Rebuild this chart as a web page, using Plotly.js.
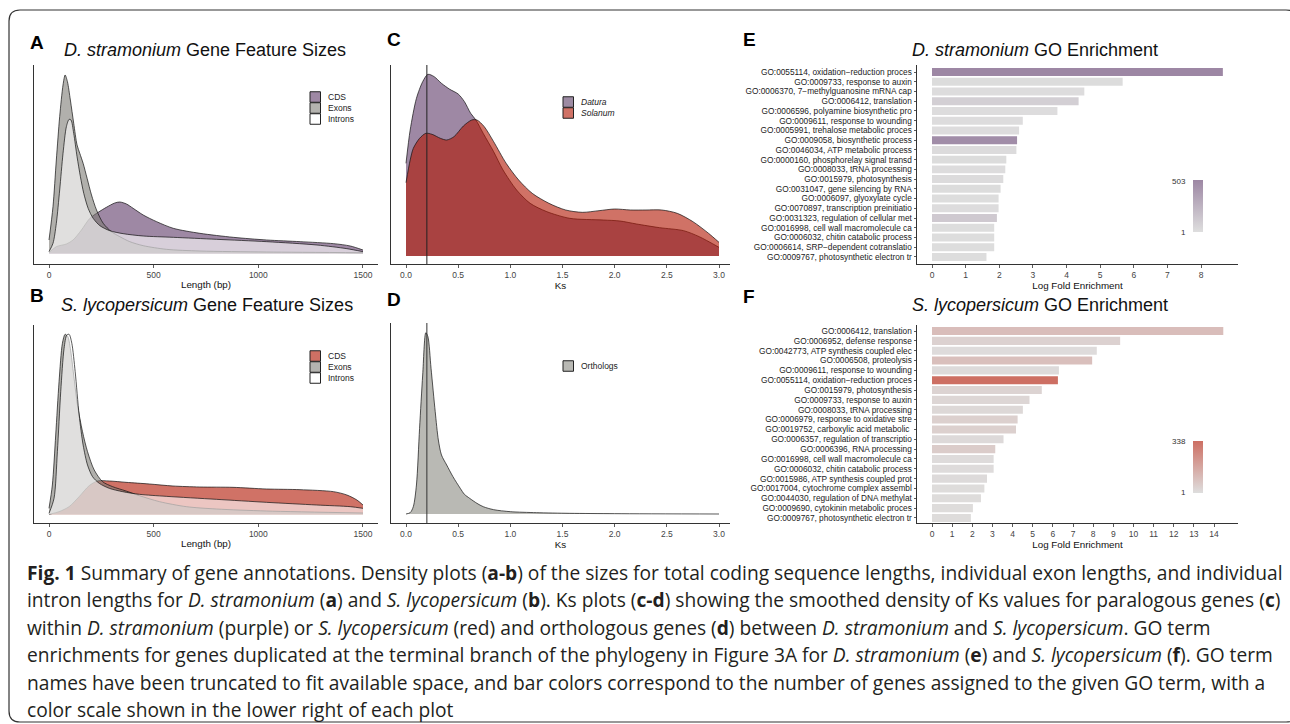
<!DOCTYPE html>
<html><head><meta charset="utf-8">
<script src="https://cdn.plot.ly/plotly-3.0.1.min.js"></script>
<style>html,body{margin:0;padding:0;background:#fff}#chart{width:1290px;height:724px}</style>
</head><body><div id="chart"></div>
<script>
// ---------- DATA ----------
// Panel A: D. stramonium feature length densities (relative density)
const dsCdsX = [0, 35, 83, 115, 155, 195, 235, 274, 314, 338, 370, 402, 450, 514, 594, 721, 881, 1040, 1200, 1360, 1439, 1500];
const dsCdsY = [0.02, 0.20, 0.28, 0.40, 0.70, 1.05, 1.23, 1.38, 1.51, 1.54, 1.48, 1.35, 1.15, 0.95, 0.75, 0.60, 0.48, 0.40, 0.35, 0.29, 0.22, 0.10];
const dsExonX = [0, 19, 35, 51, 67, 77, 88, 102, 118, 134, 147, 163, 182, 203, 227, 259, 298, 338, 386, 450, 562, 721, 1040, 1500];
const dsExonY = [0.40, 1.40, 2.80, 4.10, 5.05, 5.35, 5.15, 4.60, 3.90, 3.25, 3.00, 2.70, 2.25, 1.75, 1.30, 0.90, 0.65, 0.50, 0.35, 0.23, 0.12, 0.07, 0.04, 0.02];
const dsIntronX = [0, 19, 35, 51, 67, 83, 96, 105, 118, 134, 150, 166, 187, 211, 243, 290, 354, 450, 594, 801, 1040, 1280, 1423, 1500];
const dsIntronY = [0.05, 0.30, 0.90, 1.90, 3.00, 3.80, 4.02, 4.00, 3.60, 2.90, 2.30, 1.80, 1.35, 1.05, 0.83, 0.68, 0.59, 0.52, 0.48, 0.42, 0.35, 0.25, 0.14, 0.05];
// Panel B: S. lycopersicum feature length densities
const slCdsX = [0, 48, 96, 144, 192, 232, 288, 368, 480, 592, 720, 879, 1039, 1199, 1359, 1423, 1471, 1500];
const slCdsY = [0.00, 0.08, 0.23, 0.53, 0.86, 1.00, 1.00, 0.96, 0.91, 0.85, 0.82, 0.81, 0.76, 0.74, 0.68, 0.58, 0.43, 0.28];
const slExonX = [0, 16, 32, 48, 64, 77, 90, 102, 118, 136, 160, 184, 216, 256, 304, 368, 432, 528, 656, 800, 1039, 1500];
const slExonY = [0.18, 0.88, 2.38, 3.98, 5.13, 5.40, 5.33, 4.98, 4.18, 3.28, 2.48, 1.88, 1.33, 0.98, 0.83, 0.70, 0.56, 0.38, 0.23, 0.16, 0.10, 0.04];
const slIntronX = [0, 24, 40, 56, 72, 85, 96, 109, 125, 144, 163, 184, 208, 240, 288, 352, 432, 560, 800, 1039, 1279, 1439, 1500];
const slIntronY = [0.03, 0.48, 1.88, 3.68, 4.98, 5.38, 5.40, 5.13, 4.28, 2.98, 2.08, 1.48, 1.13, 0.93, 0.78, 0.68, 0.60, 0.54, 0.45, 0.36, 0.28, 0.23, 0.18];
const featureNames = ["CDS", "Exons", "Introns"];
const lengthTicks = [0, 500, 1000, 1500];
// Panel C: paralog Ks densities
const daturaKsX = [0.00, 0.04, 0.10, 0.16, 0.21, 0.27, 0.34, 0.42, 0.50, 0.56, 0.62, 0.67, 0.74, 0.84, 0.93, 1.06, 1.19, 1.35, 1.57, 1.89, 2.05, 2.21, 2.43, 2.66, 2.81, 3.00];
const daturaKsY = [2.78, 3.78, 4.73, 5.23, 5.45, 5.38, 5.18, 5.00, 4.86, 4.63, 4.28, 4.08, 3.68, 3.13, 2.58, 1.98, 1.58, 1.33, 1.13, 1.08, 1.05, 0.96, 0.85, 0.76, 0.58, 0.26];
const solanumKsX = [0.00, 0.04, 0.07, 0.13, 0.19, 0.25, 0.33, 0.39, 0.46, 0.55, 0.63, 0.68, 0.75, 0.84, 0.96, 1.08, 1.21, 1.37, 1.53, 1.69, 1.85, 2.00, 2.15, 2.30, 2.45, 2.60, 2.75, 2.90, 3.00];
const solanumKsY = [2.20, 2.88, 3.23, 3.53, 3.68, 3.65, 3.53, 3.48, 3.58, 3.90, 4.08, 4.08, 3.88, 3.43, 2.78, 2.28, 1.88, 1.58, 1.38, 1.31, 1.36, 1.41, 1.38, 1.38, 1.38, 1.28, 1.03, 0.68, 0.41];
const paralogNames = ["Datura", "Solanum"];
// Panel D: ortholog Ks density
const orthoKsX = [0.00, 0.04, 0.07, 0.10, 0.13, 0.16, 0.19, 0.21, 0.24, 0.28, 0.31, 0.34, 0.39, 0.45, 0.52, 0.56, 0.61, 0.68, 0.74, 0.84, 1.00, 1.25, 1.57, 2.00, 3.00];
const orthoKsY = [0.00, 0.04, 0.22, 0.87, 2.57, 4.17, 5.44, 5.32, 4.37, 3.07, 2.22, 1.77, 1.47, 1.12, 0.77, 0.59, 0.47, 0.32, 0.22, 0.13, 0.07, 0.04, 0.02, 0.01, 0.00];
const orthoName = ["Orthologs"];
const ksTicks = [0, 0.5, 1, 1.5, 2, 2.5, 3];
const ksMarker = 0.2;
// Panel E: D. stramonium GO enrichment
const dsGoTerms = ["GO:0055114, oxidation\u2212reduction proces", "GO:0009733, response to auxin", "GO:0006370, 7\u2212methylguanosine mRNA cap", "GO:0006412, translation", "GO:0006596, polyamine biosynthetic pro", "GO:0009611, response to wounding", "GO:0005991, trehalose metabolic proces", "GO:0009058, biosynthetic process", "GO:0046034, ATP metabolic process", "GO:0000160, phosphorelay signal transd", "GO:0008033, tRNA processing", "GO:0015979, photosynthesis", "GO:0031047, gene silencing by RNA", "GO:0006097, glyoxylate cycle", "GO:0070897, transcription preinitiatio", "GO:0031323, regulation of cellular met", "GO:0016998, cell wall macromolecule ca", "GO:0006032, chitin catabolic process", "GO:0006614, SRP\u2212dependent cotranslatio", "GO:0009767, photosynthetic electron tr"];
const dsGoFold = [8.65, 5.67, 4.53, 4.36, 3.73, 2.70, 2.59, 2.53, 2.51, 2.21, 2.18, 2.12, 2.04, 1.98, 1.98, 1.93, 1.85, 1.85, 1.85, 1.62];
const dsGoCount = [503, 15, 12, 85, 10, 12, 12, 470, 20, 15, 12, 20, 15, 8, 10, 120, 8, 8, 8, 8];
const dsCountRange = [1, 503];
const dsFoldTicks = [0, 1, 2, 3, 4, 5, 6, 7, 8];
// Panel F: S. lycopersicum GO enrichment
const slGoTerms = ["GO:0006412, translation", "GO:0006952, defense response", "GO:0042773, ATP synthesis coupled elec", "GO:0006508, proteolysis", "GO:0009611, response to wounding", "GO:0055114, oxidation\u2212reduction proces", "GO:0015979, photosynthesis", "GO:0009733, response to auxin", "GO:0008033, tRNA processing", "GO:0006979, response to oxidative stre", "GO:0019752, carboxylic acid metabolic ", "GO:0006357, regulation of transcriptio", "GO:0006396, RNA processing", "GO:0016998, cell wall macromolecule ca", "GO:0006032, chitin catabolic process", "GO:0015986, ATP synthesis coupled prot", "GO:0017004, cytochrome complex assembl", "GO:0044030, regulation of DNA methylat", "GO:0009690, cytokinin metabolic proces", "GO:0009767, photosynthetic electron tr"];
const slGoFold = [14.46, 9.34, 8.18, 7.95, 6.30, 6.25, 5.45, 4.84, 4.51, 4.25, 4.17, 3.55, 3.14, 3.06, 3.06, 2.73, 2.60, 2.43, 2.03, 1.93];
const slGoCount = [100, 40, 10, 95, 12, 338, 35, 25, 20, 45, 45, 15, 55, 10, 10, 12, 8, 8, 8, 8];
const slCountRange = [1, 338];
const slFoldTicks = [0, 1, 2, 3, 4, 5, 6, 7, 8, 9, 10, 11, 12, 13, 14];
// Caption
const captionLines = [
  "<b>Fig. 1</b> Summary of gene annotations. Density plots (<b>a-b</b>) of the sizes for total coding sequence lengths, individual exon lengths, and individual",
  "intron lengths for <i>D. stramonium</i> (<b>a</b>) and <i>S. lycopersicum</i> (<b>b</b>). Ks plots (<b>c-d</b>) showing the smoothed density of Ks values for paralogous genes (<b>c</b>)",
  "within <i>D. stramonium</i> (purple) or <i>S. lycopersicum</i> (red) and orthologous genes (<b>d</b>) between <i>D. stramonium</i> and <i>S. lycopersicum</i>. GO term",
  "enrichments for genes duplicated at the terminal branch of the phylogeny in Figure 3A for <i>D. stramonium</i> (<b>e</b>) and <i>S. lycopersicum</i> (<b>f</b>). GO term",
  "names have been truncated to fit available space, and bar colors correspond to the number of genes assigned to the given GO term, with a",
  "color scale shown in the lower right of each plot"
];

// ---------- STYLE / LAYOUT ----------
const W = 1290, H = 724;
const px = v => v / W;
const py = v => 1 - v / H;
const FONT = "Liberation Sans, Arial, sans-serif";
const purpleFill = "rgba(93,57,103,0.6)";
const grayFill = "rgba(125,124,117,0.6)";
const whiteFill = "rgba(255,255,255,0.6)";
const redFill = "rgba(177,20,0,0.6)";
const orthoFill = "rgba(138,138,130,0.6)";

function dens(x, y, fill, xa, ya) {
  return {type: "scatter", mode: "lines", x: x, y: y, xaxis: xa, yaxis: ya,
    fill: "tozeroy", fillcolor: fill,
    line: {color: "#111", width: 0.7, shape: "spline", smoothing: 0.8},
    hoverinfo: "skip", showlegend: false};
}

const traces = [
  dens(dsCdsX, dsCdsY, purpleFill, "x", "y"),
  dens(dsExonX, dsExonY, grayFill, "x", "y"),
  dens(dsIntronX, dsIntronY, whiteFill, "x", "y"),
  dens(slCdsX, slCdsY, redFill, "x2", "y2"),
  dens(slExonX, slExonY, grayFill, "x2", "y2"),
  dens(slIntronX, slIntronY, whiteFill, "x2", "y2"),
  dens(daturaKsX, daturaKsY, purpleFill, "x3", "y3"),
  dens(solanumKsX, solanumKsY, redFill, "x3", "y3"),
  dens(orthoKsX, orthoKsY, orthoFill, "x4", "y4"),
  {type: "bar", orientation: "h", x: dsGoFold, y: dsGoTerms, xaxis: "x5", yaxis: "y5", width: 0.82,
   marker: {color: dsGoCount, colorscale: [[0, "#dedede"], [1, "#9d87a4"]], cmin: dsCountRange[0], cmax: dsCountRange[1],
     line: {width: 0}, showscale: true,
     colorbar: {x: px(1193), xanchor: "left", xpad: 0, ypad: 0, y: py(206), yanchor: "middle",
       thickness: 10, len: 52, lenmode: "pixels", outlinewidth: 0, ticks: "", showticklabels: false}},
   hoverinfo: "skip", showlegend: false},
  {type: "bar", orientation: "h", x: slGoFold, y: slGoTerms, xaxis: "x6", yaxis: "y6", width: 0.82,
   marker: {color: slGoCount, colorscale: [[0, "#dedede"], [1, "#cd6f63"]], cmin: slCountRange[0], cmax: slCountRange[1],
     line: {width: 0}, showscale: true,
     colorbar: {x: px(1193), xanchor: "left", xpad: 0, ypad: 0, y: py(467), yanchor: "middle",
       thickness: 10, len: 52, lenmode: "pixels", outlinewidth: 0, ticks: "", showticklabels: false}},
   hoverinfo: "skip", showlegend: false}
];

const tickFont = {family: FONT, size: 8.5, color: "#444"};
const titleFont = {family: FONT, size: 9.8, color: "#111"};
function xax(domain, range, ticks, title, anchor, fmt) {
  return {domain: domain, range: range, tickmode: "array", tickvals: ticks, ticktext: ticks.map(fmt || (v => String(v))),
    showline: true, linecolor: "#333", linewidth: 1, ticks: "outside", ticklen: 3, tickwidth: 0.8, tickcolor: "#333",
    showgrid: false, zeroline: false, tickfont: tickFont, anchor: anchor,
    title: {text: title, font: titleFont, standoff: 1}};
}
function yden(domain, range, anchor) {
  return {domain: domain, range: range, showline: true, linecolor: "#333", linewidth: 1, ticks: "",
    showticklabels: false, showgrid: false, zeroline: false, anchor: anchor};
}
function ycat(domain, range, cats, anchor) {
  return {domain: domain, range: range, type: "category", categoryorder: "array", categoryarray: cats,
    tickmode: "array", tickvals: cats, ticktext: cats,
    showline: true, linecolor: "#333", linewidth: 1, ticks: "outside", ticklen: 2.5, tickwidth: 0.8, tickcolor: "#333",
    showgrid: false, zeroline: false, tickfont: {family: FONT, size: 8.3, color: "#222"}, anchor: anchor};
}

const topY = [py(264), py(65)];
const botY = [py(523), py(325)];
const colA = [px(34), px(378)];
const colC = [px(391), px(730)];
const colE = [px(917), px(1238)];

const layout = {
  width: W, height: H, margin: {l: 0, r: 0, t: 0, b: 0}, autosize: false,
  paper_bgcolor: "#fff", plot_bgcolor: "rgba(0,0,0,0)", showlegend: false,
  font: {family: FONT, color: "#111"},
  xaxis: xax(colA, [-71.7, 1571.7], lengthTicks, "Length (bp)", "y"),
  yaxis: yden(topY, [-0.32, 5.65], "x"),
  xaxis2: xax(colA, [-71.7, 1571.7], lengthTicks, "Length (bp)", "y2"),
  yaxis2: yden(botY, [-0.26, 5.68], "x2"),
  xaxis3: xax(colC, [-0.1438, 3.1054], ksTicks, "Ks", "y3", v => v.toFixed(1)),
  yaxis3: yden(topY, [-0.24, 5.73], "x3"),
  xaxis4: xax(colC, [-0.1438, 3.1054], ksTicks, "Ks", "y4", v => v.toFixed(1)),
  yaxis4: yden([py(523), py(323)], [-0.27, 5.73], "x4"),
  xaxis5: xax(colE, [-0.446, 9.10], dsFoldTicks, "Log Fold Enrichment", "y5"),
  yaxis5: ycat(topY, [19.72, -0.72], dsGoTerms, "x5"),
  xaxis6: xax(colE, [-0.745, 15.19], slFoldTicks, "Log Fold Enrichment", "y6"),
  yaxis6: ycat(botY, [19.51, -0.61], slGoTerms, "x6"),
  annotations: [],
  shapes: []
};

function ann(x, y, text, size, extra) {
  layout.annotations.push(Object.assign({xref: "paper", yref: "paper", x: px(x), y: py(y), text: text,
    showarrow: false, xanchor: "center", yanchor: "middle", font: {family: FONT, size: size, color: "#111"}}, extra || {}));
}
// Panel letters
[["A", 37, 42], ["B", 37, 295], ["C", 394, 40], ["D", 394, 299], ["E", 749, 40], ["F", 749, 297]].forEach(l =>
  ann(l[1], l[2], "<b>" + l[0] + "</b>", 19, {font: {family: FONT, size: 19, color: "#000"}}));
// Panel titles
ann(205, 50, "<i>D. stramonium</i> Gene Feature Sizes", 18);
ann(207, 305, "<i>S. lycopersicum</i> Gene Feature Sizes", 18);
ann(1035, 50, "<i>D. stramonium</i> GO Enrichment", 18);
ann(1040, 305, "<i>S. lycopersicum</i> GO Enrichment", 18);

// Legends (keys)
function legend(x0, yCenters, colors, names, italic) {
  yCenters.forEach((yc, i) => {
    layout.shapes.push({type: "rect", xref: "paper", yref: "paper", x0: px(x0), x1: px(x0 + 10.5),
      y0: py(yc - 5.25), y1: py(yc + 5.25), fillcolor: colors[i], line: {color: "#222", width: 1}});
    ann(x0 + 16, yc, italic ? "<i>" + names[i] + "</i>" : names[i], 8.5,
      {xanchor: "left", font: {family: FONT, size: 8.5, color: "#222"}});
  });
}
legend(310, [97, 108, 119], ["#9e88a4", "#b4b3af", "#ffffff"], featureNames, false);
legend(310, [356, 367, 378], ["#ce7064", "#b4b3af", "#ffffff"], featureNames, false);
legend(563, [102, 113], ["#9d8ba3", "#d07266"], paralogNames, true);
legend(563, [366], ["#b9b9b4"], orthoName, false);

// Colorbar end labels
const cbLab = {xanchor: "right", font: {family: FONT, size: 8, color: "#333"}};
ann(1188, 181, String(dsCountRange[1]), 8, cbLab);
ann(1188, 232, String(dsCountRange[0]), 8, cbLab);
ann(1188, 441, String(slCountRange[1]), 8, cbLab);
ann(1188, 492, String(slCountRange[0]), 8, cbLab);

// Ks reference lines
layout.shapes.push({type: "line", xref: "x3", yref: "y3 domain", x0: ksMarker, x1: ksMarker, y0: 0, y1: 1, line: {color: "#222", width: 1}});
layout.shapes.push({type: "line", xref: "x4", yref: "y4 domain", x0: ksMarker, x1: ksMarker, y0: 0, y1: 1, line: {color: "#333", width: 1}});

// Caption
captionLines.forEach((t, i) => ann(25, 572 + i * 27.5, t, 19.2,
  {xanchor: "left", align: "left", font: {family: "Open Sans, Noto Sans, sans-serif", size: 19.2, color: "#231f20"}}));

// Frame
const P = (x, y) => px(x).toFixed(5) + "," + py(y).toFixed(5);
layout.shapes.push({type: "path", xref: "paper", yref: "paper", layer: "above",
  path: "M" + P(9, 711) + " L" + P(9, 21) + " Q" + P(9, 10) + " " + P(20, 10) + " L" + P(1286, 10) + " Q" + P(1297, 10) + " " + P(1297, 21) +
        " L" + P(1297, 711) + " Q" + P(1297, 722) + " " + P(1286, 722) + " L" + P(20, 722) + " Q" + P(9, 722) + " " + P(9, 711) + " Z",
  line: {color: "#333", width: 1.2}, fillcolor: "rgba(0,0,0,0)"});

Plotly.newPlot("chart", traces, layout, {staticPlot: true, displayModeBar: false});
</script></body></html>
